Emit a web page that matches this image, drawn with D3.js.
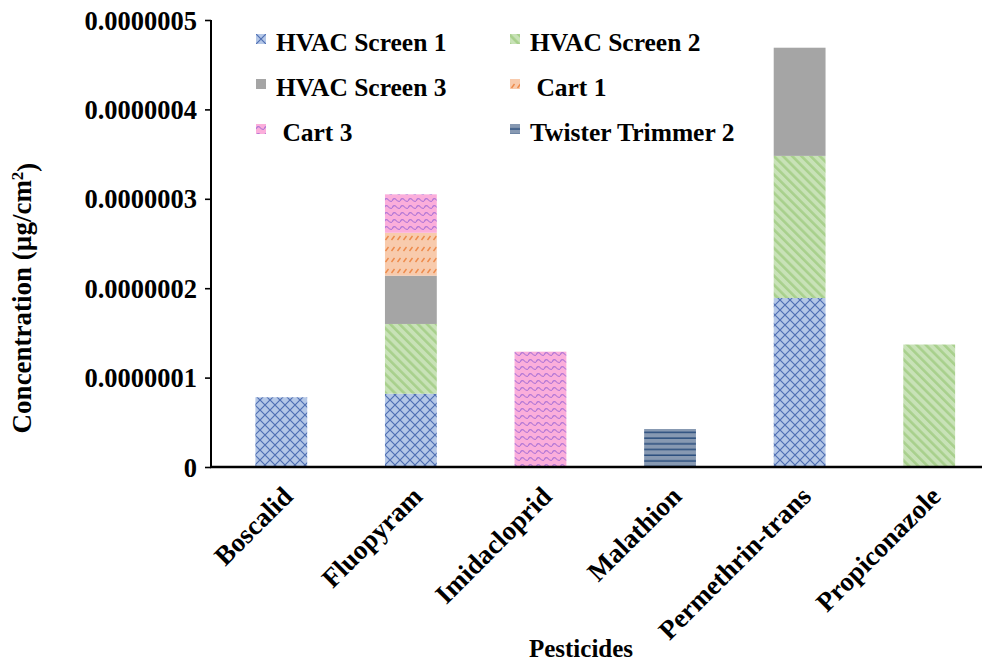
<!DOCTYPE html>
<html>
<head>
<meta charset="utf-8">
<script src="https://cdn.jsdelivr.net/npm/d3@7"></script>
<style>
  html, body { margin: 0; padding: 0; background: #fff; }
  svg { display: block; }
  text { font-family: "Liberation Serif", "Times New Roman", serif; font-weight: bold; fill: #000; }
</style>
</head>
<body>
<svg id="chart" width="982" height="661"></svg>
<script>
// Pesticide categories along the x axis
const categories = ["Boscalid", "Fluopyram", "Imidacloprid", "Malathion", "Permethrin-trans", "Propiconazole"];

// Sampling locations (stack order, bottom to top)
const seriesNames = ["HVAC Screen 1", "HVAC Screen 2", "HVAC Screen 3", "Cart 1", "Cart 3", "Twister Trimmer 2"];

// Concentrations (µg/cm²) per location, one value per pesticide
const hvacScreen1 = [7.8e-8, 8.2e-8, 0, 0, 1.89e-7, 0];
const hvacScreen2 = [0, 7.8e-8, 0, 0, 1.59e-7, 1.37e-7];
const hvacScreen3 = [0, 5.4e-8, 0, 0, 1.21e-7, 0];
const cart1 = [0, 4.8e-8, 0, 0, 0, 0];
const cart3 = [0, 4.3e-8, 1.29e-7, 0, 0, 0];
const twisterTrimmer2 = [0, 0, 0, 4.25e-8, 0, 0];

// Y axis ticks
const yTicks = [0, 1e-7, 2e-7, 3e-7, 4e-7, 5e-7];
const yTickLabels = ["0", "0.0000001", "0.0000002", "0.0000003", "0.0000004", "0.0000005"];

const seriesValues = [hvacScreen1, hvacScreen2, hvacScreen3, cart1, cart3, twisterTrimmer2];
const rows = categories.map((c, i) => {
  const r = { category: c };
  seriesNames.forEach((s, j) => { r[s] = seriesValues[j][i]; });
  return r;
});

const svg = d3.select("#chart");
const defs = svg.append("defs");

const x = d3.scaleBand().domain(categories).range([216.5, 994]).paddingInner(0.6).paddingOuter(0.3);
const y = d3.scaleLinear().domain([0, 5e-7]).range([467, 20]);

// Fill patterns, one per location; ox/oy shift the tile origin
function makePattern(id, kind, ox, oy) {
  let p;
  if (kind === 0) { // blue diagonal lattice
    p = defs.append("pattern").attr("id", id).attr("patternUnits", "userSpaceOnUse")
      .attr("x", ox).attr("y", oy).attr("width", 10).attr("height", 10);
    p.append("rect").attr("width", 10).attr("height", 10).attr("fill", "#b4c7e7");
    p.append("path").attr("d", "M0,0L10,10M10,0L0,10").attr("stroke", "#4f6fb3")
      .attr("stroke-width", 1.2).attr("fill", "none");
  } else if (kind === 1) { // green wide downward diagonal
    p = defs.append("pattern").attr("id", id).attr("patternUnits", "userSpaceOnUse")
      .attr("x", ox).attr("y", oy).attr("width", 6.5).attr("height", 6.5)
      .attr("patternTransform", "rotate(-45)");
    p.append("rect").attr("width", 6.5).attr("height", 6.5).attr("fill", "#c8e2b7");
    p.append("rect").attr("width", 2.6).attr("height", 6.5).attr("fill", "#a8d08c");
  } else if (kind === 2) { // solid grey
    p = defs.append("pattern").attr("id", id).attr("patternUnits", "userSpaceOnUse")
      .attr("width", 10).attr("height", 10);
    p.append("rect").attr("width", 10).attr("height", 10).attr("fill", "#a5a5a5");
  } else if (kind === 3) { // orange dashed diagonal
    p = defs.append("pattern").attr("id", id).attr("patternUnits", "userSpaceOnUse")
      .attr("x", ox).attr("y", oy).attr("width", 6).attr("height", 11);
    p.append("rect").attr("width", 6).attr("height", 11).attr("fill", "#f8cbad");
    p.append("path").attr("d", "M1.5,9L4.5,5").attr("stroke", "#ee8a4a")
      .attr("stroke-width", 1.4).attr("fill", "none");
  } else if (kind === 4) { // pink wave
    p = defs.append("pattern").attr("id", id).attr("patternUnits", "userSpaceOnUse")
      .attr("x", ox).attr("y", oy).attr("width", 8).attr("height", 7);
    p.append("rect").attr("width", 8).attr("height", 7).attr("fill", "#fbaedb");
    p.append("path").attr("d", "M0,5Q2,1 4,3.5T8,5").attr("stroke", "#b478d6")
      .attr("stroke-width", 1.2).attr("fill", "none");
  } else { // slate with horizontal lines
    p = defs.append("pattern").attr("id", id).attr("patternUnits", "userSpaceOnUse")
      .attr("x", ox).attr("y", oy).attr("width", 10).attr("height", 5.7);
    p.append("rect").attr("width", 10).attr("height", 5.7).attr("fill", "#8799b2");
    p.append("rect").attr("y", 4.2).attr("width", 10).attr("height", 1.5).attr("fill", "#2c4f7e");
  }
}
seriesNames.forEach((s, j) => makePattern("pat" + j, j, 0, 0));

// Stacked bars
const stack = d3.stack().keys(seriesNames)(rows);
const layers = svg.append("g").selectAll("g").data(stack).join("g")
  .attr("fill", (d, j) => `url(#pat${j})`);
layers.selectAll("rect").data(d => d.filter(v => v[1] - v[0] > 0)).join("rect")
  .attr("x", d => x(d.data.category))
  .attr("width", x.bandwidth())
  .attr("y", d => y(d[1]))
  .attr("height", d => y(d[0]) - y(d[1]));

// Y axis
const yAxis = d3.axisLeft(y).tickValues(yTicks)
  .tickFormat((d, i) => yTickLabels[i]).tickSize(6).tickPadding(8);
const gy = svg.append("g").attr("transform", "translate(211,0)").call(yAxis);
gy.select(".domain").attr("stroke", "#000").attr("stroke-width", 2).attr("d", "M0,20V467");
gy.selectAll(".tick line").attr("stroke", "#000").attr("stroke-width", 1.6);
gy.selectAll(".tick text").style("font-size", "26.5px").attr("dy", "0.34em");

// X axis
const xAxis = d3.axisBottom(x).tickSize(0).tickFormat(d => d);
const gx = svg.append("g").attr("transform", "translate(0,467)").call(xAxis);
gx.select(".domain").attr("stroke", "#000").attr("stroke-width", 2.6).attr("d", "M210,0H982");
gx.selectAll(".tick text")
  .style("font-size", "27px")
  .attr("text-anchor", "end")
  .attr("x", 0).attr("y", 0).attr("dy", 0)
  .attr("transform", "translate(13,31) rotate(-45)");

// Axis titles
svg.append("text").attr("x", 581).attr("y", 657).attr("text-anchor", "middle")
  .style("font-size", "25px").text("Pesticides");
const yTitle = svg.append("text").attr("transform", "translate(31,298) rotate(-90)")
  .attr("text-anchor", "middle").style("font-size", "27px");
yTitle.append("tspan").text("Concentration (µg/cm");
yTitle.append("tspan").attr("dy", "-0.45em").style("font-size", "17px").text("2");
yTitle.append("tspan").attr("dy", "0.45em").text(")");

// Legend (two columns, three rows)
const legendCols = [256, 510];
const legendText = [276, 530];
const legendRows = [51, 96, 141];
const legendLabel = ["HVAC Screen 1", "HVAC Screen 2", "HVAC Screen 3", " Cart 1", " Cart 3", "Twister Trimmer 2"];
const legend = svg.append("g");
seriesNames.forEach((s, j) => {
  const col = j % 2, row = Math.floor(j / 2);
  const mx = legendCols[col], my = legendRows[row] - 17;
  makePattern("leg" + j, j, mx, my);
  legend.append("rect").attr("x", mx).attr("y", my).attr("width", 10).attr("height", 10)
    .attr("fill", `url(#leg${j})`);
  legend.append("text").attr("x", legendText[col]).attr("y", legendRows[row])
    .style("font-size", "25.5px").style("white-space", "pre").attr("xml:space", "preserve")
    .text(legendLabel[j]);
});
</script>
</body>
</html>
